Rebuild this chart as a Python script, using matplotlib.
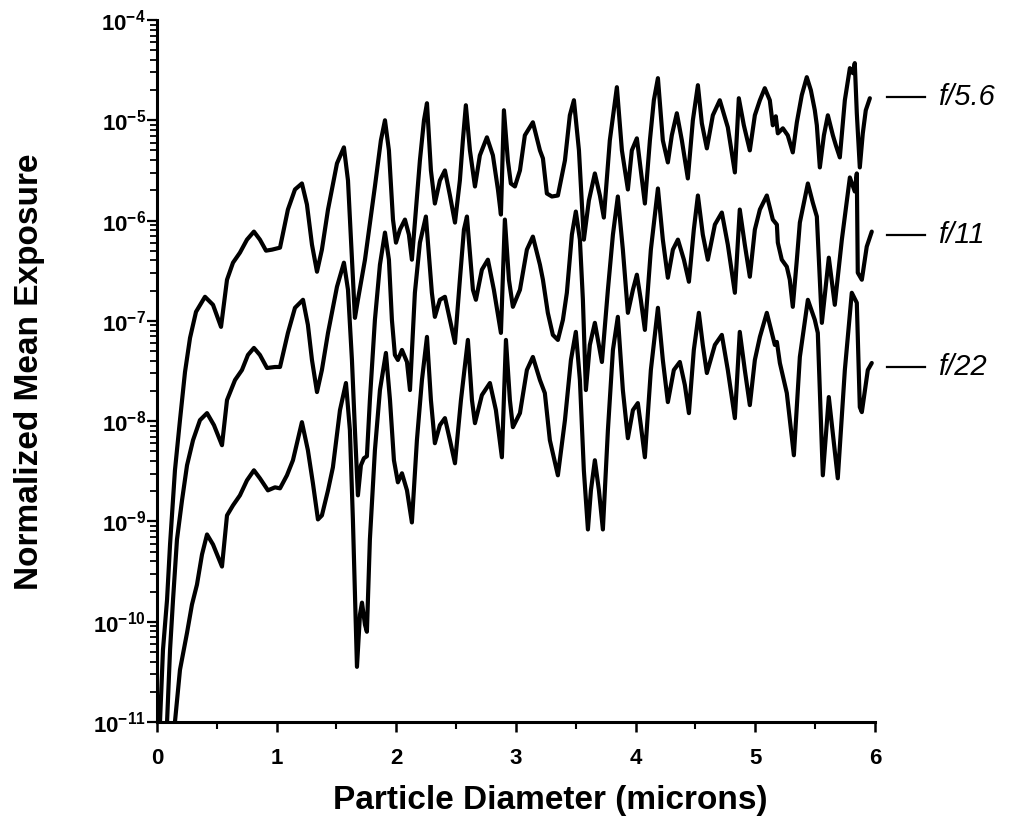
import numpy as np
import matplotlib
matplotlib.use("Agg")
import matplotlib.pyplot as plt
from matplotlib.ticker import LogLocator, MultipleLocator, FixedLocator, FixedFormatter, NullFormatter

plt.rcParams['font.family'] = ['Liberation Sans', 'DejaVu Sans']
plt.rcParams['mathtext.fontset'] = 'custom'
plt.rcParams['mathtext.rm'] = 'Liberation Sans'
plt.rcParams['mathtext.bf'] = 'Liberation Sans:bold'

# particle diameter (microns) and log10(normalized mean exposure)
d_56 = [0.025, 0.050, 0.084, 0.109, 0.150, 0.192, 0.234, 0.276, 0.326, 0.401, 0.468, 0.535,
        0.585, 0.635, 0.693, 0.752, 0.810, 0.860, 0.911, 0.961, 1.028, 1.094, 1.153, 1.211,
        1.253, 1.295, 1.337, 1.378, 1.429, 1.504, 1.562, 1.596, 1.621, 1.654, 1.679, 1.738,
        1.821, 1.871, 1.905, 1.938, 1.972, 1.997, 2.030, 2.072, 2.105, 2.130, 2.164, 2.197,
        2.231, 2.256, 2.289, 2.322, 2.364, 2.406, 2.448, 2.490, 2.531, 2.556, 2.581, 2.615,
        2.657, 2.698, 2.757, 2.807, 2.849, 2.874, 2.899, 2.932, 2.957, 2.991, 3.033, 3.074,
        3.141, 3.200, 3.225, 3.258, 3.300, 3.350, 3.409, 3.450, 3.484, 3.526, 3.567, 3.609,
        3.659, 3.701, 3.734, 3.784, 3.843, 3.885, 3.935, 3.968, 4.010, 4.043, 4.077, 4.119,
        4.152, 4.186, 4.227, 4.269, 4.302, 4.344, 4.386, 4.436, 4.478, 4.520, 4.553, 4.595,
        4.645, 4.703, 4.770, 4.829, 4.862, 4.904, 4.954, 4.996, 5.038, 5.079, 5.121, 5.146,
        5.171, 5.188, 5.230, 5.271, 5.313, 5.347, 5.388, 5.430, 5.464, 5.497, 5.514, 5.539,
        5.573, 5.606, 5.648, 5.673, 5.706, 5.748, 5.790, 5.815, 5.831, 5.848, 5.873, 5.898,
        5.923, 5.957]
log_56 = [-11.00, -10.28, -9.78, -9.23, -8.49, -7.99, -7.51, -7.17, -6.91, -6.76, -6.84, -7.06,
          -6.59, -6.42, -6.32, -6.19, -6.11, -6.19, -6.30, -6.29, -6.27, -5.89, -5.69, -5.63,
          -5.84, -6.24, -6.51, -6.29, -5.89, -5.43, -5.27, -5.60, -6.19, -6.97, -6.79, -6.39,
          -5.66, -5.20, -5.00, -5.30, -5.99, -6.22, -6.09, -5.99, -6.14, -6.39, -5.89, -5.40,
          -5.00, -4.83, -5.50, -5.83, -5.60, -5.50, -5.75, -6.02, -5.60, -5.20, -4.85, -5.30,
          -5.66, -5.35, -5.17, -5.35, -5.69, -5.94, -4.90, -5.40, -5.63, -5.66, -5.50, -5.15,
          -5.02, -5.30, -5.38, -5.73, -5.76, -5.75, -5.40, -4.95, -4.80, -5.30, -6.19, -5.80,
          -5.53, -5.75, -5.97, -5.20, -4.67, -5.30, -5.69, -5.30, -5.18, -5.50, -5.83, -5.20,
          -4.80, -4.58, -5.20, -5.42, -5.15, -4.93, -5.20, -5.58, -5.00, -4.65, -5.03, -5.28,
          -4.95, -4.80, -5.07, -5.52, -4.78, -5.05, -5.30, -4.95, -4.80, -4.68, -4.80, -5.05,
          -4.96, -5.13, -5.08, -5.15, -5.32, -5.02, -4.75, -4.57, -4.70, -4.90, -5.05, -5.47,
          -5.15, -4.95, -5.15, -5.25, -5.37, -4.80, -4.48, -4.53, -4.43, -4.93, -5.47, -5.13,
          -4.90, -4.78]

d_11 = [0.084, 0.109, 0.134, 0.167, 0.209, 0.251, 0.301, 0.359, 0.418, 0.476, 0.543, 0.585,
        0.652, 0.710, 0.760, 0.810, 0.860, 0.919, 0.986, 1.028, 1.094, 1.153, 1.220, 1.261,
        1.295, 1.337, 1.378, 1.429, 1.504, 1.562, 1.596, 1.629, 1.654, 1.679, 1.704, 1.729,
        1.754, 1.779, 1.821, 1.863, 1.905, 1.938, 1.963, 1.988, 2.013, 2.047, 2.089, 2.114,
        2.155, 2.197, 2.247, 2.297, 2.322, 2.364, 2.406, 2.448, 2.490, 2.531, 2.565, 2.590,
        2.640, 2.665, 2.715, 2.765, 2.815, 2.874, 2.907, 2.941, 2.974, 3.033, 3.091, 3.141,
        3.200, 3.225, 3.266, 3.308, 3.350, 3.392, 3.425, 3.467, 3.500, 3.534, 3.559, 3.584,
        3.617, 3.659, 3.718, 3.768, 3.810, 3.851, 3.893, 3.935, 3.977, 4.010, 4.043, 4.077,
        4.127, 4.186, 4.227, 4.269, 4.311, 4.353, 4.403, 4.445, 4.486, 4.520, 4.561, 4.603,
        4.662, 4.720, 4.770, 4.829, 4.870, 4.912, 4.954, 4.996, 5.038, 5.096, 5.146, 5.180,
        5.188, 5.221, 5.263, 5.288, 5.313, 5.347, 5.372, 5.439, 5.480, 5.514, 5.556, 5.614,
        5.664, 5.723, 5.790, 5.831, 5.848, 5.856, 5.890, 5.931, 5.973]
log_11 = [-11.00, -10.28, -9.78, -9.18, -8.79, -8.44, -8.19, -7.99, -7.92, -8.04, -8.24, -7.79,
          -7.59, -7.49, -7.34, -7.27, -7.34, -7.47, -7.46, -7.46, -7.12, -6.87, -6.79, -7.04,
          -7.39, -7.71, -7.49, -7.12, -6.66, -6.42, -6.69, -7.39, -8.09, -8.74, -8.44, -8.37,
          -8.35, -7.79, -6.99, -6.44, -6.12, -6.39, -6.99, -7.34, -7.39, -7.29, -7.41, -7.69,
          -6.72, -6.22, -5.96, -6.72, -6.96, -6.79, -6.76, -6.99, -7.22, -6.59, -6.09, -5.96,
          -6.69, -6.79, -6.49, -6.39, -6.69, -7.12, -5.99, -6.59, -6.86, -6.69, -6.29, -6.16,
          -6.44, -6.59, -6.92, -7.14, -7.19, -6.99, -6.72, -6.14, -5.91, -6.19, -6.79, -7.69,
          -7.24, -7.02, -7.41, -6.69, -6.14, -5.76, -6.29, -6.92, -6.69, -6.54, -6.79, -7.09,
          -6.29, -5.68, -6.19, -6.57, -6.29, -6.19, -6.39, -6.61, -6.09, -5.75, -6.14, -6.39,
          -6.04, -5.92, -6.24, -6.72, -5.89, -6.24, -6.56, -6.09, -5.89, -5.75, -5.99, -6.04,
          -6.22, -6.39, -6.46, -6.59, -6.86, -6.39, -6.02, -5.63, -5.82, -5.96, -7.02, -6.37,
          -6.84, -6.19, -5.57, -5.71, -5.53, -6.52, -6.59, -6.26, -6.11]

d_22 = [0.150, 0.192, 0.251, 0.292, 0.334, 0.376, 0.418, 0.468, 0.543, 0.585, 0.635, 0.693,
        0.752, 0.810, 0.860, 0.927, 0.986, 1.028, 1.086, 1.136, 1.211, 1.261, 1.303, 1.345,
        1.378, 1.429, 1.470, 1.529, 1.579, 1.612, 1.637, 1.671, 1.696, 1.713, 1.738, 1.754,
        1.779, 1.821, 1.863, 1.913, 1.947, 1.980, 2.013, 2.047, 2.089, 2.130, 2.172, 2.214,
        2.256, 2.289, 2.322, 2.364, 2.406, 2.448, 2.490, 2.540, 2.598, 2.632, 2.657, 2.715,
        2.782, 2.832, 2.882, 2.916, 2.949, 2.974, 3.033, 3.091, 3.141, 3.200, 3.241, 3.283,
        3.350, 3.409, 3.459, 3.500, 3.534, 3.567, 3.601, 3.626, 3.659, 3.693, 3.726, 3.768,
        3.810, 3.851, 3.893, 3.935, 3.977, 4.018, 4.043, 4.077, 4.127, 4.186, 4.227, 4.269,
        4.319, 4.369, 4.411, 4.445, 4.486, 4.528, 4.561, 4.595, 4.662, 4.720, 4.770, 4.829,
        4.870, 4.912, 4.954, 4.996, 5.038, 5.096, 5.163, 5.180, 5.205, 5.263, 5.322, 5.372,
        5.439, 5.497, 5.522, 5.564, 5.614, 5.689, 5.748, 5.806, 5.848, 5.873, 5.890, 5.940,
        5.973]
log_22 = [-11.00, -10.48, -10.11, -9.83, -9.63, -9.33, -9.13, -9.23, -9.45, -8.94, -8.84, -8.74,
          -8.59, -8.49, -8.57, -8.69, -8.66, -8.67, -8.54, -8.39, -8.01, -8.29, -8.62, -8.98,
          -8.94, -8.69, -8.46, -7.89, -7.62, -8.09, -8.98, -10.45, -9.93, -9.81, -10.03, -10.10,
          -9.18, -8.29, -7.69, -7.32, -7.79, -8.39, -8.61, -8.52, -8.69, -9.01, -8.19, -7.59,
          -7.16, -7.79, -8.22, -8.04, -7.97, -8.19, -8.42, -7.79, -7.19, -7.79, -8.02, -7.74,
          -7.62, -7.89, -8.36, -7.19, -7.79, -8.06, -7.92, -7.49, -7.36, -7.59, -7.72, -8.19,
          -8.54, -7.99, -7.39, -7.11, -7.59, -8.49, -9.08, -8.69, -8.39, -8.69, -9.08, -8.09,
          -7.29, -6.96, -7.69, -8.17, -7.89, -7.82, -8.04, -8.36, -7.49, -6.87, -7.39, -7.81,
          -7.49, -7.41, -7.64, -7.92, -7.29, -6.92, -7.24, -7.52, -7.24, -7.14, -7.49, -7.97,
          -7.11, -7.49, -7.84, -7.39, -7.16, -6.92, -7.24, -7.21, -7.42, -7.72, -8.34, -7.36,
          -6.79, -6.99, -7.12, -8.54, -7.76, -8.57, -7.49, -6.72, -6.82, -7.86, -7.91, -7.49,
          -7.42]

curve_labels = ['f/5.6', 'f/11', 'f/22']
y_tick_exps = [-11, -10, -9, -8, -7, -6, -5, -4]
x_ticks = [0, 1, 2, 3, 4, 5, 6]

W, H = 1012, 827
fig = plt.figure(figsize=(W / 100, H / 100), dpi=100)
# axes box: x 157..875 px, y 20..722 px
ax = fig.add_axes([157 / W, 1 - 722 / H, 718 / W, 702 / H])

for d, lg in [(d_56, log_56), (d_11, log_11), (d_22, log_22)]:
    ax.plot(d, 10.0 ** np.array(lg), color='black', lw=3.0,
            solid_joinstyle='round', solid_capstyle='round')

ax.set_yscale('log')
ax.set_xlim(0, 6)
ax.set_ylim(1e-11, 1e-4)

for s in ['top', 'right']:
    ax.spines[s].set_visible(False)
for s in ['left', 'bottom']:
    ax.spines[s].set_linewidth(2.2)

ax.yaxis.set_major_locator(FixedLocator([10.0 ** e for e in y_tick_exps]))
ax.yaxis.set_major_formatter(FixedFormatter([r'$\mathbf{10^{%d}}$' % e for e in y_tick_exps]))
ax.yaxis.set_minor_locator(LogLocator(base=10, subs=np.arange(2, 10), numticks=20))
ax.yaxis.set_minor_formatter(NullFormatter())
ax.xaxis.set_major_locator(FixedLocator(x_ticks))
ax.set_xticklabels([str(t) for t in x_ticks], fontweight='bold')
ax.xaxis.set_minor_locator(MultipleLocator(0.5))

ax.tick_params(axis='y', which='major', direction='out', length=7, width=1.6, labelsize=16, pad=1)
ax.tick_params(axis='y', which='minor', direction='out', length=5, width=1.3)
ax.tick_params(axis='x', which='major', direction='out', length=7, width=1.8, labelsize=16, pad=12)
ax.tick_params(axis='x', which='minor', direction='out', length=5, width=1.5)

ax.set_xlabel('Particle Diameter (microns)', fontsize=24, fontweight='bold')
ax.xaxis.set_label_coords((550 - 157) / 718, (722 - 800) / 702)
ax.xaxis.label.set_va('center')
ax.set_ylabel('Normalized Mean Exposure', fontsize=24, fontweight='bold')
ax.yaxis.set_label_coords((30 - 157) / 718, (722 - 372) / 702)
ax.yaxis.label.set_va('center')

# right-hand curve labels
label_rows = [97, 235, 367]
for lab, py in zip(curve_labels, label_rows):
    yf = 1 - py / H
    fig.add_artist(plt.Line2D([887 / W, 925 / W], [yf, yf], color='black', lw=1.6))
    fig.text(938 / W, yf, lab, fontsize=21, fontstyle='italic', va='center', ha='left')

fig.savefig('out.png', dpi=100)
